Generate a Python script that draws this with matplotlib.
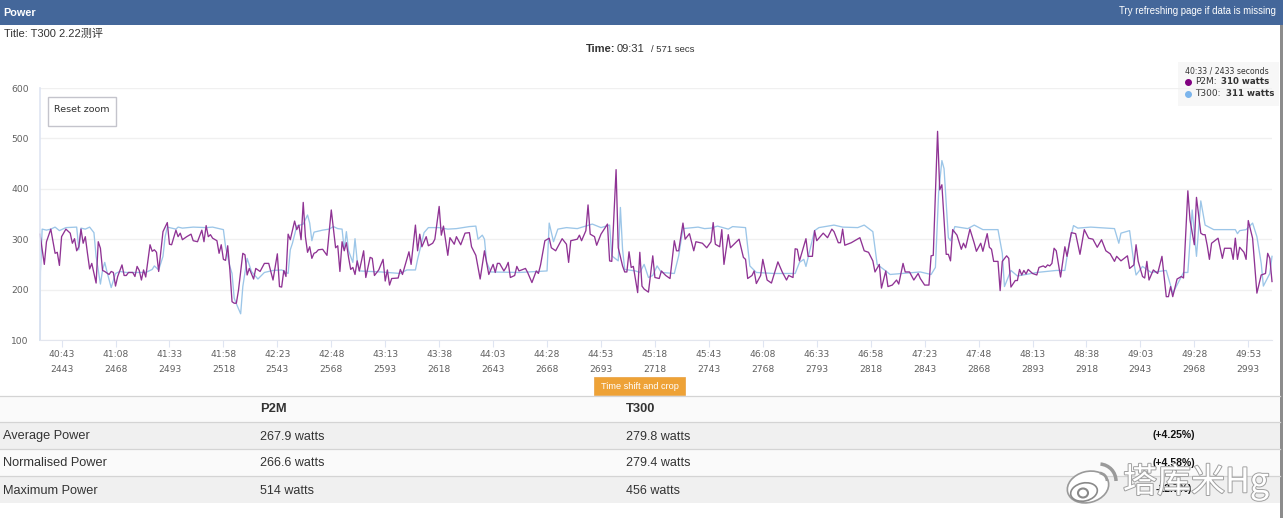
import numpy as np
from matplotlib import pyplot as plt
from matplotlib import patheffects as pe
from matplotlib.patches import Rectangle, Ellipse, Arc

plt.rcParams['font.family'] = ['DejaVu Sans', 'Noto Sans CJK SC']

START = 2433
END = 3004

# seconds after the start of the window, watts
p2m_t = [0, 2, 3, 5, 7, 8, 9, 10, 12, 14, 15, 16, 17, 18, 19, 20, 21, 22, 23, 24, 26, 27, 28, 29, 30, 32, 33, 34, 35, 36,
         38, 39, 40, 41, 43, 44, 45, 46, 47, 48, 49, 51, 52, 53, 54, 55, 57, 59, 60, 61, 63, 64, 65, 66, 68, 70, 71, 73, 75, 76,
         77, 78, 79, 80, 82, 83, 84, 85, 86, 87, 88, 89, 90, 91, 92, 94, 95, 96, 97, 99, 100, 102, 104, 106, 108, 110, 111, 112, 113, 114,
         115, 116, 118, 119, 120, 121, 122, 123, 124, 125, 126, 127, 128, 129, 131, 133, 135, 137, 138, 139, 140, 141, 142, 143, 144, 145, 146, 147, 148, 150,
         151, 153, 154, 155, 157, 159, 160, 161, 162, 163, 166, 167, 168, 170, 171, 172, 174, 175, 176, 177, 179, 180, 182, 183, 185, 186, 187, 189, 190, 192,
         193, 195, 197, 199, 200, 202, 204, 206, 208, 210, 211, 212, 213, 215, 216, 217, 218, 220, 221, 222, 225, 226, 228, 230, 231, 232, 234, 236, 237, 239,
         242, 244, 245, 246, 249, 250, 251, 253, 254, 255, 257, 258, 260, 263, 264, 265, 267, 268, 270, 271, 272, 273, 274, 275, 277, 278, 279, 280, 282, 284,
         285, 287, 288, 290, 292, 294, 295, 296, 298, 299, 301, 303, 304, 307, 309, 311, 312, 313, 315, 316, 317, 319, 320, 324, 326, 327, 328, 330, 331, 332,
         334, 335, 337, 339, 342, 344, 346, 347, 349, 350, 351, 352, 355, 356, 358, 359, 360, 362, 363, 365, 367, 368, 370, 371, 372, 373, 376, 380, 382, 384,
         386, 387, 389, 390, 392, 393, 395, 397, 398, 400, 401, 403, 405, 407, 408, 410, 412, 413, 414, 416, 417, 418, 420, 421, 422, 423, 425, 427, 428, 429,
         431, 433, 434, 436, 437, 439, 440, 441, 442, 444, 445, 446, 448, 449, 450, 452, 453, 454, 455, 456, 457, 458, 460, 462, 463, 465, 466, 467, 468, 469,
         470, 471, 473, 475, 476, 478, 480, 482, 484, 486, 488, 490, 492, 494, 496, 498, 499, 501, 504, 505, 507, 508, 509, 511, 512, 513, 514, 516, 518, 520,
         522, 523, 524, 525, 527, 529, 530, 532, 533, 535, 536, 538, 539, 540, 541, 542, 543, 546, 548, 549, 552, 553, 554, 555, 556, 558, 559, 560, 562, 564,
         566, 568, 569, 570, 571]
p2m_w = [310, 250, 295, 320, 272, 274, 248, 305, 320, 312, 292, 301, 277, 285, 320, 292, 305, 272, 241, 252, 213, 295, 282, 238, 236, 230, 236, 234, 207, 226,
         249, 228, 228, 234, 234, 226, 246, 238, 219, 239, 225, 289, 276, 279, 274, 236, 315, 333, 290, 289, 318, 305, 312, 299, 305, 310, 297, 295, 318, 295,
         327, 305, 309, 302, 297, 272, 289, 260, 258, 287, 239, 176, 173, 173, 199, 272, 269, 229, 242, 221, 242, 236, 252, 252, 219, 271, 206, 205, 238, 226,
         310, 299, 336, 319, 328, 299, 373, 305, 274, 285, 262, 272, 274, 279, 280, 268, 358, 283, 287, 236, 295, 277, 293, 264, 240, 244, 230, 257, 237, 277,
         224, 264, 262, 228, 239, 260, 217, 239, 209, 222, 223, 240, 230, 260, 275, 250, 328, 277, 310, 285, 305, 287, 292, 300, 365, 308, 326, 268, 303, 290,
         305, 289, 312, 313, 285, 268, 221, 277, 230, 250, 234, 252, 252, 237, 244, 254, 224, 228, 246, 237, 242, 234, 214, 237, 232, 249, 297, 302, 283, 277,
         301, 290, 254, 297, 300, 308, 297, 317, 368, 310, 305, 288, 310, 330, 257, 256, 438, 283, 247, 235, 235, 275, 244, 246, 194, 274, 207, 201, 195, 267,
         224, 222, 237, 228, 222, 297, 277, 277, 332, 300, 311, 277, 295, 292, 283, 295, 333, 290, 285, 319, 250, 309, 283, 300, 264, 260, 222, 228, 237, 212,
         228, 260, 219, 213, 255, 235, 219, 228, 224, 281, 280, 257, 301, 266, 266, 317, 297, 307, 312, 303, 320, 315, 293, 293, 320, 288, 293, 303, 277, 274,
         257, 235, 250, 203, 237, 206, 209, 219, 211, 252, 235, 235, 219, 232, 222, 209, 209, 267, 268, 514, 398, 408, 270, 270, 257, 319, 308, 280, 292, 283,
         320, 292, 276, 292, 276, 311, 284, 280, 256, 256, 198, 256, 267, 262, 205, 218, 218, 240, 229, 238, 231, 240, 232, 229, 244, 247, 244, 249, 247, 252,
         282, 277, 225, 285, 266, 313, 311, 270, 319, 302, 300, 284, 299, 277, 271, 256, 266, 257, 267, 242, 249, 289, 256, 226, 223, 256, 219, 239, 232, 266,
         186, 186, 206, 186, 221, 226, 223, 396, 338, 289, 383, 312, 309, 309, 287, 260, 292, 302, 262, 282, 282, 260, 302, 260, 284, 274, 260, 337, 302, 193,
         229, 232, 272, 262, 216]

t300_t = [0, 0.2, 1, 3, 5, 7, 9, 12, 17, 18, 19, 21, 23, 25, 26, 28, 29, 30, 31, 33, 35, 37, 40, 49, 52, 53, 55, 57, 58, 59,
          63, 64, 66, 71, 77, 80, 85, 86, 88, 89, 90, 91, 93, 94, 96, 98, 101, 104, 108, 112, 115, 116, 117, 119, 122, 124, 125, 126, 127, 131,
          134, 136, 138, 140, 141, 142, 143, 145, 146, 147, 148, 158, 167, 170, 174, 175, 178, 180, 185, 189, 193, 199, 202, 203, 205, 206, 207, 209, 222, 235,
          236, 238, 240, 244, 249, 256, 260, 264, 265, 268, 269, 270, 271, 276, 278, 280, 282, 284, 286, 288, 294, 296, 298, 305, 308, 311, 314, 319, 321, 327,
          329, 332, 340, 350, 352, 354, 355, 359, 361, 368, 372, 379, 382, 386, 388, 392, 394, 408, 413, 415, 416.5, 418, 419, 421, 422, 424, 430, 433, 437, 444,
          446, 447, 450, 453, 462, 471, 475, 477, 479, 481, 487, 498, 500, 501, 505, 507, 508, 511, 515, 522, 525, 530, 532, 534, 536, 538, 540, 544, 554, 555,
          556, 559, 562, 564, 566, 567, 570, 571]
t300_w = [100, 236, 320, 318, 320, 324, 317, 323, 324, 279, 322, 320, 324, 313, 266, 211, 239, 254, 236, 204, 232, 236, 234, 234, 240, 247, 239, 266, 305, 324,
          320, 324, 322, 324, 323, 324, 319, 285, 246, 232, 183, 172, 152, 206, 262, 236, 221, 234, 238, 239, 232, 279, 292, 326, 330, 348, 332, 297, 314, 318,
          320, 325, 321, 320, 280, 315, 277, 254, 301, 257, 237, 235, 232, 239, 239, 260, 313, 323, 323, 320, 321, 325, 326, 300, 308, 300, 254, 235, 234, 237,
          332, 295, 320, 323, 321, 330, 323, 328, 267, 257, 363, 280, 240, 237, 234, 250, 224, 228, 247, 234, 232, 267, 321, 324, 321, 322, 326, 320, 325, 323,
          247, 234, 232, 232, 254, 260, 246, 317, 323, 328, 324, 323, 328, 315, 250, 237, 230, 235, 230, 244, 393, 456, 440, 303, 297, 325, 321, 328, 319, 319,
          272, 206, 238, 227, 234, 238, 238, 292, 327, 322, 324, 321, 292, 312, 317, 252, 229, 246, 234, 238, 193, 234, 234, 358, 266, 376, 328, 319, 319, 311,
          317, 319, 332, 305, 252, 207, 232, 266]

tick_sec = [2443, 2468, 2493, 2518, 2543, 2568, 2593, 2618, 2643, 2668, 2693, 2718, 2743, 2768, 2793, 2818, 2843, 2868, 2893, 2918, 2943, 2968, 2993]
y_ticks = [100, 200, 300, 400, 500, 600]

row_names = ['Average Power', 'Normalised Power', 'Maximum Power']
p2m_stats = ['267.9 watts', '266.6 watts', '514 watts']
t300_stats = ['279.8 watts', '279.4 watts', '456 watts']
diff_stats = ['(+4.25%)', '(+4.58%)', '-12.7%)']

TEXT = '#333333'
SANS = ['Liberation Sans', 'Noto Sans CJK SC']

fig = plt.figure(figsize=(12.83, 5.18), dpi=100)

# page furniture in pixel coordinates
bg = fig.add_axes([0, 0, 1, 1], zorder=0)
bg.set_xlim(0, 1283)
bg.set_ylim(518, 0)
bg.axis('off')

bg.add_patch(Rectangle((0, 0), 1283, 24.5, color='#44679a', lw=0))
bg.text(3, 12.5, 'Power', color='white', fontsize=7.8, fontweight='bold', family=SANS, va='center')
bg.text(1276, 11, 'Try refreshing page if data is missing', color='white', fontsize=6.9, family=SANS, va='center', ha='right')
bg.text(4, 33.5, 'Title: T300 2.22测评', color='#333333', fontsize=8, family=SANS, va='center')
bg.text(615, 49.5, 'Time:', color=TEXT, fontsize=8, fontweight='bold', family=SANS, va='center', ha='right')
bg.text(617, 49.5, '09:31', color=TEXT, fontsize=8, family=SANS, va='center')
bg.text(651, 50, '/ 571 secs', color=TEXT, fontsize=6.8, family=SANS, va='center')

# reset button
bg.add_patch(Rectangle((48, 97), 68, 29, fc='white', ec='#c4c4cc', lw=1))
bg.text(82, 110, 'Reset zoom', color=TEXT, fontsize=6.8, ha='center', va='center')

# tooltip
bg.add_patch(Rectangle((1178, 62), 101, 44, fc='#f7f7f7', ec='none'))
bg.text(1185, 71, '40:33 / 2433 seconds', color=TEXT, fontsize=5.6, va='center')
bg.plot([1188], [82], 'o', ms=4, color='#800080')
bg.text(1195, 82, 'P2M:', color=TEXT, fontsize=6.5, va='center')
bg.text(1221, 82, '310 watts', color=TEXT, fontsize=6.2, fontweight='bold', va='center')
bg.plot([1188], [94], 'o', ms=4, color='#7cb5ec')
bg.text(1195, 94, 'T300:', color=TEXT, fontsize=6.5, va='center')
bg.text(1226, 94, '311 watts', color=TEXT, fontsize=6.2, fontweight='bold', va='center')

# stats table
bg.add_patch(Rectangle((0, 396), 1280, 26, fc='#fafafa', ec='none'))
bg.add_patch(Rectangle((0, 422), 1280, 27, fc='#f0f0f0', ec='none'))
bg.add_patch(Rectangle((0, 449), 1280, 27, fc='#fafafa', ec='none'))
bg.add_patch(Rectangle((0, 476), 1280, 27, fc='#f0f0f0', ec='none'))
for y in [395.5, 422, 449, 476]:
    bg.plot([0, 1280], [y, y], color='#d4d4d4', lw=0.9)
bg.text(260, 409, 'P2M', color=TEXT, fontsize=9.3, fontweight='bold', family=SANS, va='center')
bg.text(626, 409, 'T300', color=TEXT, fontsize=9.3, fontweight='bold', family=SANS, va='center')
for i in range(len(row_names)):
    y = 436.5 + 27 * i
    bg.text(3, y, row_names[i], color=TEXT, fontsize=9.2, family=SANS, va='center')
    bg.text(260, y, p2m_stats[i], color=TEXT, fontsize=9, family=SANS, va='center')
    bg.text(626, y, t300_stats[i], color=TEXT, fontsize=9, family=SANS, va='center')
    bg.text(1174, y - 1, diff_stats[i], color='#111111', fontsize=7.6, fontweight='bold', family=SANS, va='center', ha='center')

# orange button
bg.add_patch(Rectangle((594, 377), 91, 18, fc='#eea236', ec='#e8a040', lw=0.5))
bg.text(639.5, 386.5, 'Time shift and crop', color='white', fontsize=6.6, family=SANS, va='center', ha='center')

# grey window edge on the right
bg.add_patch(Rectangle((1280, 24.5), 3, 494, color='#8c8c8c', lw=0))

# chart
ax = fig.add_axes([40 / 1283, 1 - 340 / 518, (1272 - 40) / 1283, 252 / 518], zorder=1)
ax.patch.set_alpha(0)
ax.set_xlim(START, END)
ax.set_ylim(100, 600)
ax.plot(np.array(t300_t) + START, t300_w, color='#9cc6e8', lw=0.95, clip_on=False)
ax.plot(np.array(p2m_t) + START, p2m_w, color='#8f3394', lw=0.95, clip_on=False)

for s in ['top', 'right']:
    ax.spines[s].set_visible(False)
ax.spines['left'].set_color('#dfe5f2')
ax.spines['left'].set_linewidth(1.2)
ax.spines['bottom'].set_color('#e3e6ee')
ax.grid(axis='y', color='#f0f0f0', lw=1)
ax.set_axisbelow(True)

ax.set_yticks(y_ticks)
ax.tick_params(axis='y', length=0, labelsize=6.6, labelcolor='#606060', pad=8)
ax.set_xticks(tick_sec)
ax.set_xticklabels([f'{s // 60}:{s % 60:02d}\n{s}' for s in tick_sec], linespacing=1.9)
ax.tick_params(axis='x', length=5, color='#dfe5f2', labelsize=6.6, labelcolor='#606060', pad=2)

# watermark on top of the table
wm = fig.add_axes([0, 0, 1, 1], zorder=2)
wm.set_xlim(0, 1283)
wm.set_ylim(518, 0)
wm.axis('off')
shadow = [pe.withStroke(linewidth=1.4, foreground='#a0a0a0')]
wm.text(1123, 482, '塔库米Hg', color='white', fontsize=24.5, family=['Noto Sans CJK SC', 'DejaVu Sans'],
        va='center', path_effects=shadow)
wm.add_patch(Ellipse((1088, 487), 42, 31, angle=-15, fc='white', ec='#9a9a9a', lw=1.2))
wm.add_patch(Ellipse((1084, 492), 27, 18, angle=-12, fc='white', ec='#8a8a8a', lw=1.2))
wm.add_patch(Ellipse((1083, 493), 10, 9, fc='white', ec='#8a8a8a', lw=1.5))
wm.add_patch(Arc((1099, 481), 16, 16, theta1=-85, theta2=0, ec='#9a9a9a', lw=2))
wm.add_patch(Arc((1099, 481), 34, 34, theta1=-85, theta2=0, ec='#9a9a9a', lw=2.5))

fig.savefig('out.png', dpi=100)
